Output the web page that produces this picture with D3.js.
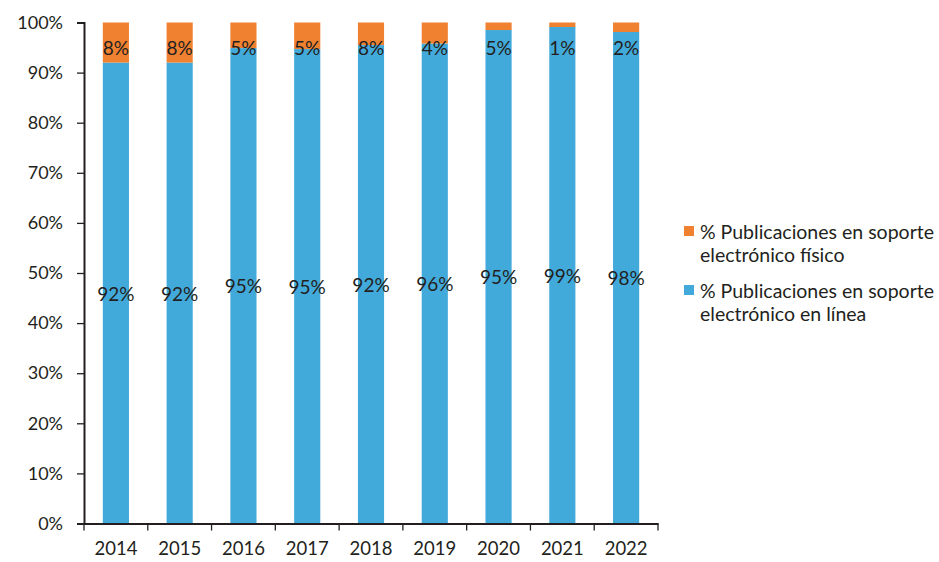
<!DOCTYPE html>
<html><head><meta charset="utf-8">
<script src="https://cdn.jsdelivr.net/npm/d3@7"></script>
<style>body{margin:0;background:#fff}svg{display:block}text{font-family:Lato,"Open Sans",sans-serif;fill:#231f20}</style>
</head><body><svg id="c" width="939" height="562"></svg>
<script>
const years = ["2014","2015","2016","2017","2018","2019","2020","2021","2022"];
const enLinea = [92.0, 92.0, 94.9, 94.7, 95.5, 95.8, 98.5, 99.1, 98.1];
const fisico = [8.0, 8.0, 5.1, 5.3, 4.5, 4.2, 1.5, 0.9, 1.9];
const enLineaLabels = ["92%","92%","95%","95%","92%","96%","95%","99%","98%"];
const fisicoLabels = ["8%","8%","5%","5%","8%","4%","5%","1%","2%"];
const yTicks = [0,10,20,30,40,50,60,70,80,90,100];
const seriesNames = ["% Publicaciones en soporte|electrónico físico","% Publicaciones en soporte|electrónico en línea"];
const colors = ["#F08131","#42AADB"];

const svg = d3.select("#c");
const x = d3.scaleBand().domain(years).range([84,658]).paddingInner(0.59).paddingOuter(0.295);
const y = d3.scaleLinear().domain([0,100]).range([523.5,22.5]);

// bars
const g = svg.append("g");
years.forEach((yr,i)=>{
  g.append("rect").attr("x",x(yr)).attr("width",x.bandwidth())
   .attr("y",y(enLinea[i])).attr("height",y(0)-y(enLinea[i])).attr("fill",colors[1]);
  g.append("rect").attr("x",x(yr)).attr("width",x.bandwidth())
   .attr("y",y(100)).attr("height",y(100-fisico[i])-y(100)).attr("fill",colors[0]);
  g.append("text").attr("x",x(yr)+x.bandwidth()/2).attr("y",y(enLinea[i]/2))
   .attr("text-anchor","middle").attr("dominant-baseline","central").attr("font-size",19).text(enLineaLabels[i]);
  g.append("text").attr("x",x(yr)+x.bandwidth()/2).attr("y",y(95.1))
   .attr("text-anchor","middle").attr("dominant-baseline","central").attr("font-size",19).text(fisicoLabels[i]);
});

// y axis
const ya = svg.append("g").attr("transform","translate(84,0)")
  .call(d3.axisLeft(y).tickValues(yTicks).tickFormat(d=>d+"%").tickSize(7).tickPadding(14));
ya.select(".domain").attr("stroke","#231f20").attr("stroke-width",2);
ya.selectAll(".tick line").attr("stroke","#231f20").attr("stroke-width",1.3);
ya.selectAll(".tick text").attr("font-size",18).attr("font-family","Lato,'Open Sans',sans-serif").attr("fill","#231f20");

// x axis
const xa = svg.append("g").attr("transform","translate(0,523.5)")
  .call(d3.axisBottom(x).tickSize(0).tickPadding(18));
xa.select(".domain").attr("stroke","#231f20").attr("stroke-width",2);
xa.selectAll(".tick text").attr("font-size",18.5).attr("font-family","Lato,'Open Sans',sans-serif").attr("fill","#231f20");
const bounds = years.map(yr=>x(yr)-x.step()*x.paddingInner()/2).concat([658]);
bounds.forEach(b=>xa.append("line").attr("x1",b).attr("x2",b).attr("y1",0).attr("y2",7).attr("stroke","#231f20").attr("stroke-width",1.3));

// legend
const lg = svg.append("g");
const ly = [231, 290];
seriesNames.forEach((n,i)=>{
  lg.append("rect").attr("x",684).attr("y",ly[i]-5).attr("width",10).attr("height",10).attr("fill",colors[i]);
  n.split("|").forEach((t,j)=>{
    lg.append("text").attr("x",700).attr("y",ly[i]+j*23.5).attr("dominant-baseline","central").attr("font-size",19.5).text(t);
  });
});
</script></body></html>
